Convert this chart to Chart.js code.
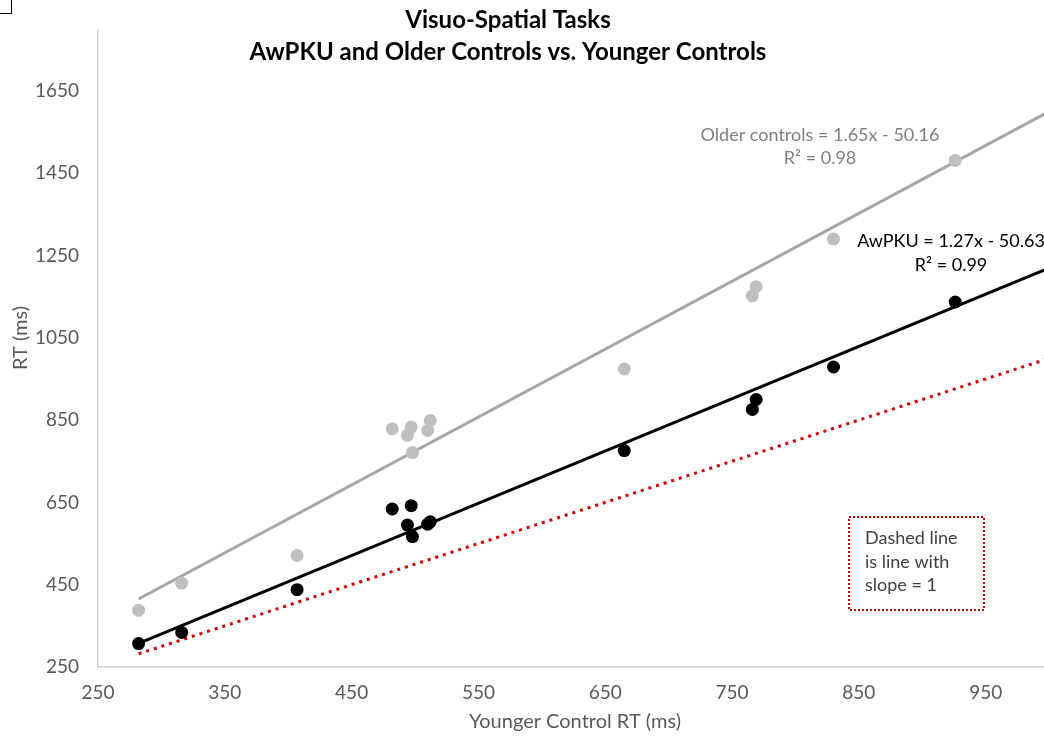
<!DOCTYPE html>
<html>
<head>
<meta charset="utf-8">
<title>Visuo-Spatial Tasks</title>
<script src="https://cdn.jsdelivr.net/npm/chart.js@4.4.1/dist/chart.umd.min.js"></script>
<style>
  html, body { margin: 0; padding: 0; background: #fff; overflow: hidden; }
  #chart-wrap { position: relative; width: 1044px; height: 736px; }
</style>
</head>
<body>
<div id="chart-wrap"><canvas id="rt-chart"></canvas></div>
<script>
// Mean RT per task (ms); x is the younger control group
const youngerRT = [282, 316, 407, 482, 494, 497, 498, 510, 512, 665, 766, 769, 830, 926];
const awpkuRT = [307, 334, 438, 634, 595, 642, 567, 597, 603, 776, 876, 900, 979, 1137];
const olderRT = [388, 454, 521, 829, 813, 833, 771, 825, 849, 974, 1152, 1174, 1290, 1481];

const xTicks = [250, 350, 450, 550, 650, 750, 850, 950];
const yTicks = [250, 450, 650, 850, 1050, 1250, 1450, 1650];

// Linear fits as printed next to each line: [slope, intercept]
const awpkuFit = [1.27, -50.63];
const olderFit = [1.65, -50.16];
const fitRange = [282, 1050];

const FONT = "Lato, 'Open Sans', sans-serif";

function fitLine(fit) {
  return fitRange.map((x) => ({ x: x, y: fit[0] * x + fit[1] }));
}

function toPoints(ys) {
  return youngerRT.map((x, i) => ({ x: x, y: ys[i] }));
}

// Titles, equations and the note box
const chartText = {
  id: "chartText",
  afterDraw(chart) {
    const ctx = chart.ctx;
    ctx.save();
    ctx.textBaseline = "middle";
    ctx.textAlign = "center";

    ctx.fillStyle = "#000";
    ctx.font = "bold 24px " + FONT;
    ctx.fillText("Visuo-Spatial Tasks", 508, 20);
    ctx.fillText("AwPKU and Older Controls vs. Younger Controls", 508, 52);

    ctx.fillStyle = "#595959";
    ctx.font = "20px " + FONT;
    ctx.fillText("Younger Control RT (ms)", 575, 722);
    ctx.save();
    ctx.translate(21, 338);
    ctx.rotate(-Math.PI / 2);
    ctx.fillText("RT (ms)", 0, 0);
    ctx.restore();

    ctx.font = "18px " + FONT;
    ctx.fillStyle = "#7f7f7f";
    ctx.fillText("Older controls = 1.65x - 50.16", 820, 135);
    ctx.fillText("R\u00b2 = 0.98", 820, 158);
    ctx.fillStyle = "#000";
    ctx.fillText("AwPKU = 1.27x - 50.63", 951, 241);
    ctx.fillText("R\u00b2 = 0.99", 951, 265);

    // note box
    ctx.strokeStyle = "#c00000";
    ctx.lineWidth = 2;
    ctx.setLineDash([2, 2]);
    ctx.strokeRect(849, 517, 135, 93);
    ctx.setLineDash([]);
    ctx.fillStyle = "#404040";
    ctx.textAlign = "left";
    ctx.fillText("Dashed line", 865, 538);
    ctx.fillText("is line with", 865, 562);
    ctx.fillText("slope = 1", 865, 585);

    // small frame at the top-left corner
    ctx.strokeStyle = "#000";
    ctx.lineWidth = 1;
    ctx.strokeRect(-1, -1, 12.5, 14.5);
    ctx.restore();
  },
};

const ctx = document.getElementById("rt-chart").getContext("2d");
new Chart(ctx, {
  type: "scatter",
  data: {
    datasets: [
      {
        label: "AwPKU",
        data: toPoints(awpkuRT),
        backgroundColor: "#000",
        borderColor: "#000",
        pointRadius: 6.5,
        pointBorderWidth: 0,
      },
      {
        label: "Older controls",
        data: toPoints(olderRT),
        backgroundColor: "#bfbfbf",
        borderColor: "#bfbfbf",
        pointRadius: 6.5,
        pointBorderWidth: 0,
      },
      {
        label: "AwPKU fit",
        type: "line",
        data: fitLine(awpkuFit),
        borderColor: "#000",
        borderWidth: 3,
        pointRadius: 0,
        fill: false,
      },
      {
        label: "Older controls fit",
        type: "line",
        data: fitLine(olderFit),
        borderColor: "#a6a6a6",
        borderWidth: 3,
        pointRadius: 0,
        fill: false,
      },
      {
        label: "Slope = 1",
        type: "line",
        data: fitRange.map((x) => ({ x: x, y: x })),
        borderColor: "#d00000",
        borderWidth: 3,
        borderDash: [3, 5],
        borderCapStyle: "butt",
        pointRadius: 0,
        fill: false,
      },
    ],
  },
  options: {
    responsive: true,
    maintainAspectRatio: false,
    animation: false,
    layout: {
      autoPadding: false,
      padding: { top: 27, right: 0, left: 0, bottom: 0 },
    },
    plugins: {
      legend: { display: false },
      tooltip: { enabled: false },
      title: { display: false },
    },
    scales: {
      x: {
        type: "linear",
        min: 250,
        max: 996,
        afterBuildTicks: (scale) => {
          scale.ticks = xTicks.map((v) => ({ value: v }));
        },
        afterFit: (scale) => {
          scale.height = 69;
        },
        grid: { display: false, drawTicks: false },
        border: { color: "#d0d0d0", width: 1.5 },
        ticks: {
          padding: 14,
          maxRotation: 0,
          color: "#595959",
          font: { family: FONT, size: 19 },
          callback: (v) => String(v),
        },
      },
      y: {
        type: "linear",
        min: 250,
        max: 1797,
        afterBuildTicks: (scale) => {
          scale.ticks = yTicks.map((v) => ({ value: v }));
        },
        afterFit: (scale) => {
          scale.width = 98;
        },
        grid: { display: false, drawTicks: false },
        border: { color: "#d0d0d0", width: 1.5 },
        ticks: {
          padding: 19,
          color: "#595959",
          font: { family: FONT, size: 19 },
          callback: (v) => String(v),
        },
      },
    },
  },
  plugins: [chartText],
});
</script>
</body>
</html>
